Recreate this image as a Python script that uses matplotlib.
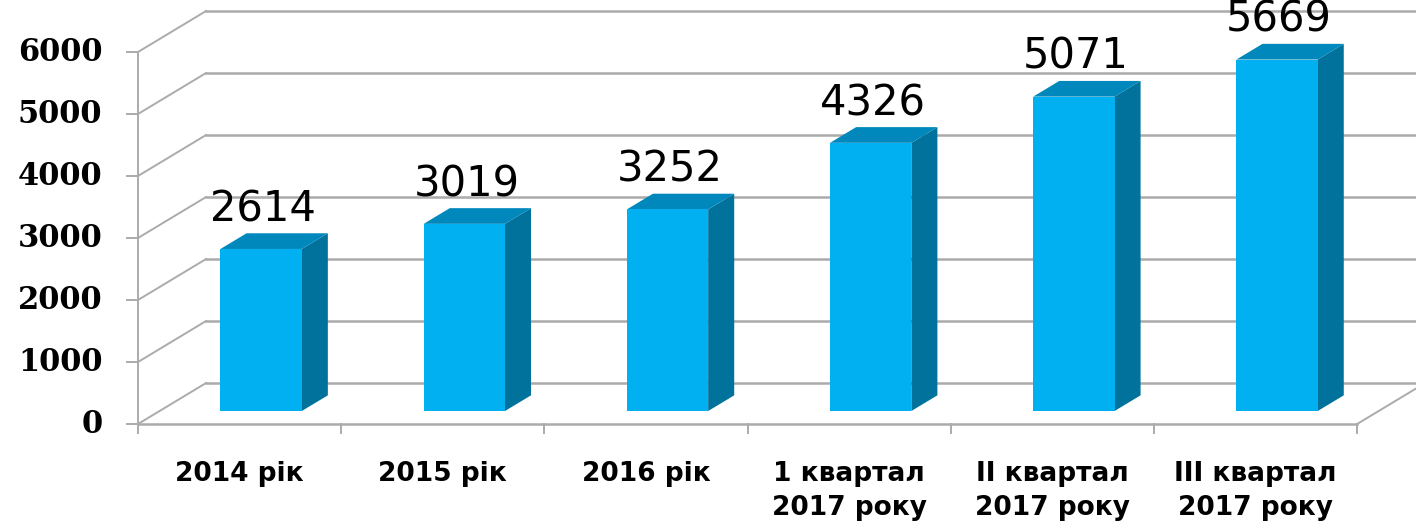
import matplotlib
matplotlib.use("Agg")
import matplotlib.pyplot as plt
from matplotlib.patches import Polygon

# дані
categories = ["2014 рік", "2015 рік", "2016 рік",
              "1 квартал\n2017 року", "II квартал\n2017 року", "III квартал\n2017 року"]
values = [2614, 3019, 3252, 4326, 5071, 5669]
yticks = [0, 1000, 2000, 3000, 4000, 5000, 6000]

# кольори
front_col = "#00B0F0"
side_col = "#00729C"
top_col = "#0088BC"
grid_col = "#ABABAB"

fig = plt.figure(figsize=(14.16, 5.28), dpi=100)
ax = fig.add_axes([0, 0, 1, 1])
ax.set_xlim(-1.179, 5.790)
ax.set_ylim(-1677, 6839)
ax.axis("off")

# зсув по глибині (стінка)
DX = 0.335
DY = 661
d0, d1 = 0.317, 0.70
bw = 0.40
n = len(values)
x0 = -0.5
x1 = n - 0.5

# сітка на задній стінці + діагоналі збоку
for v in yticks:
    ax.plot([x0, x0 + DX], [v, v + DY], color=grid_col, lw=1.4, zorder=1)
    ax.plot([x0 + DX, 5.79], [v + DY, v + DY], color=grid_col, lw=1.8, zorder=1)
    ax.plot([x0 - 0.055, x0], [v, v], color=grid_col, lw=1.4, zorder=1)
    ax.text(x0 - 0.175, v, str(v), ha="right", va="center",
            fontsize=22, fontweight="bold", family="DejaVu Serif")

# вісь Y і підлога
ax.plot([x0, x0], [0, 6000], color=grid_col, lw=1.4, zorder=1)
ax.plot([x0, x1], [0, 0], color=grid_col, lw=1.8, zorder=1)
ax.plot([x1, x1 + DX], [0, DY], color=grid_col, lw=1.4, zorder=1)
for k in range(n + 1):
    ax.plot([x0 + k, x0 + k], [0, -150], color=grid_col, lw=1.4, zorder=1)

# стовпчики
for i, v in enumerate(values):
    l = i - bw / 2
    r = i + bw / 2
    front = [(l + d0 * DX, d0 * DY), (r + d0 * DX, d0 * DY),
             (r + d0 * DX, v + d0 * DY), (l + d0 * DX, v + d0 * DY)]
    side = [(r + d0 * DX, d0 * DY), (r + d1 * DX, d1 * DY),
            (r + d1 * DX, v + d1 * DY), (r + d0 * DX, v + d0 * DY)]
    top = [(l + d0 * DX, v + d0 * DY), (r + d0 * DX, v + d0 * DY),
           (r + d1 * DX, v + d1 * DY), (l + d1 * DX, v + d1 * DY)]
    ax.add_patch(Polygon(side, closed=True, fc=side_col, ec="none", zorder=3))
    ax.add_patch(Polygon(top, closed=True, fc=top_col, ec="none", zorder=3))
    ax.add_patch(Polygon(front, closed=True, fc=front_col, ec="none", zorder=4))
    ax.text(i + d0 * DX + 0.01, v + d1 * DY + 50, str(v), ha="center", va="bottom",
            fontsize=30, family="DejaVu Sans", zorder=5)

# підписи категорій
for i, c in enumerate(categories):
    ax.text(i, -590, c, ha="center", va="top", fontsize=19, fontweight="bold",
            family="DejaVu Sans", linespacing=1.4)

fig.savefig("out.png", dpi=100)
